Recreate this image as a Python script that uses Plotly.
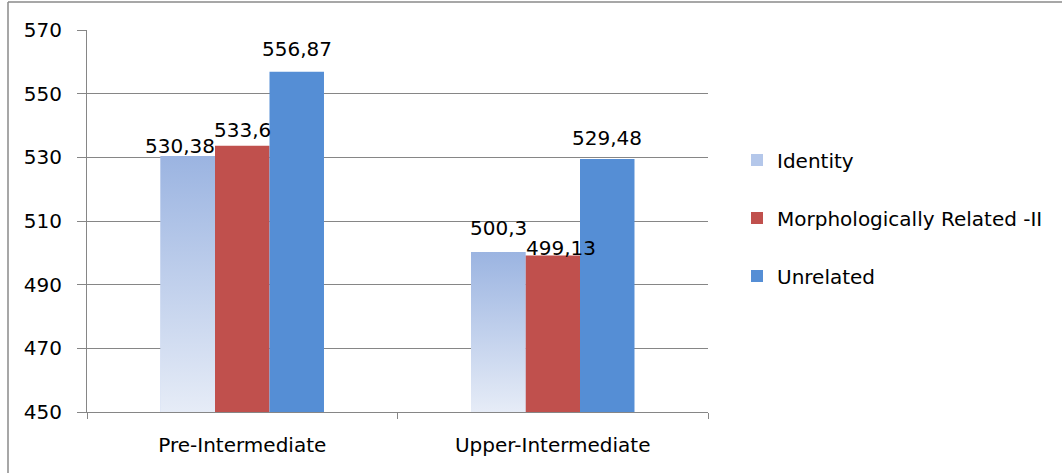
import plotly.graph_objects as go

# Data
categories = ["Pre-Intermediate", "Upper-Intermediate"]
series_names = ["Identity", "Morphologically Related -II", "Unrelated"]
identity = [530.38, 500.3]
morph_related = [533.6, 499.13]
unrelated = [556.87, 529.48]
y_ticks = [450, 470, 490, 510, 530, 550, 570]

FONT = "DejaVu Sans"
FS = 20
GRID = "#868686"
RED = "#C0504D"
BLUE = "#558ED5"
ID_TOP = "#9BB4E1"
ID_BOTTOM = "#E6ECF7"
Y_MIN, Y_MAX = 450, 570

BAR_W = 0.1755
offsets = [-1.5 * BAR_W, -0.5 * BAR_W, 0.5 * BAR_W]
xpos = list(range(len(categories)))

# Label nudges (px) per series and category, keeping neighbouring labels apart
label_dx = [[-8, 0], [0, 8], [0, 0]]
label_dy = [[-4, 10], [2, -6], [9, 7]]


def fmt(v):
    return f"{v:g}".replace(".", ",")


fig = go.Figure()

series = [identity, morph_related, unrelated]
colors = ["#B4C7EA", RED, BLUE]
annotations = []
for s, (name, vals, col, off) in enumerate(zip(series_names, series, colors, offsets)):
    fig.add_trace(go.Bar(
        x=xpos, y=vals, name=name, width=BAR_W, offset=off,
        marker=dict(color=col, line=dict(width=0)),
        legendgroup=name, hoverinfo="name+y",
    ))
    for i, v in zip(xpos, vals):
        annotations.append(dict(
            x=i + off + BAR_W / 2, y=v, xref="x", yref="y",
            text=fmt(v), showarrow=False, xanchor="center", yanchor="bottom",
            xshift=label_dx[s][i], yshift=label_dy[s][i],
            font=dict(family=FONT, size=FS, color="#000000"),
        ))

# Vertical gradient fill for the Identity bars
for i, v in zip(xpos, identity):
    x0 = i + offsets[0]
    x1 = x0 + BAR_W
    fig.add_trace(go.Scatter(
        x=[x0, x1, x1, x0, x0], y=[Y_MIN, Y_MIN, v, v, Y_MIN],
        mode="lines", line=dict(width=0), fill="toself",
        fillgradient=dict(type="vertical", start=Y_MIN, stop=v,
                          colorscale=[[0, ID_BOTTOM], [1, ID_TOP]]),
        showlegend=False, hoverinfo="skip",
    ))

L, R, T, B = 87, 354, 30, 61
W, H = 1062, 473
pw, ph = W - L - R, H - T - B

fig.update_layout(
    width=W, height=H,
    margin=dict(l=L, r=R, t=T, b=B),
    paper_bgcolor="white", plot_bgcolor="white",
    font=dict(family=FONT, size=FS, color="#000000"),
    showlegend=True,
    legend=dict(
        x=(737 - L) / pw, xanchor="left",
        y=(H - B - 218) / ph, yanchor="middle",
        tracegroupgap=29, font=dict(family=FONT, size=FS, color="#000000"),
        itemclick=False, bgcolor="rgba(0,0,0,0)",
    ),
    xaxis=dict(
        range=[-0.5, len(categories) - 0.5],
        tickmode="array", tickvals=xpos, ticktext=categories,
        ticks="", showgrid=False, zeroline=False,
        showline=True, linecolor=GRID, linewidth=1,
        ticklabelstandoff=15,
        tickfont=dict(family=FONT, size=FS, color="#000000"),
        minor=dict(ticks="outside", ticklen=6, tickcolor=GRID, tickwidth=1,
                   tick0=-0.5, dtick=1, showgrid=False),
    ),
    yaxis=dict(
        range=[Y_MIN, Y_MAX], tickmode="array", tickvals=y_ticks,
        ticks="outside", ticklen=9, tickcolor=GRID, tickwidth=1,
        showgrid=True, gridcolor=GRID, gridwidth=1, zeroline=False,
        showline=True, linecolor=GRID, linewidth=1,
        ticklabelstandoff=11,
        tickfont=dict(family=FONT, size=FS, color="#000000"),
    ),
    annotations=annotations,
    shapes=[
        dict(type="line", xref="paper", yref="paper",
             x0=(8 - L) / pw, x1=(W - L) / pw,
             y0=1 + (T - 2) / ph, y1=1 + (T - 2) / ph,
             line=dict(color="#8A8A8A", width=1.5)),
        dict(type="line", xref="paper", yref="paper",
             x0=(8 - L) / pw, x1=(8 - L) / pw,
             y0=1 + (T - 2) / ph, y1=-B / ph,
             line=dict(color="#8A8A8A", width=1.5)),
    ],
)

fig.write_html("out.html")
